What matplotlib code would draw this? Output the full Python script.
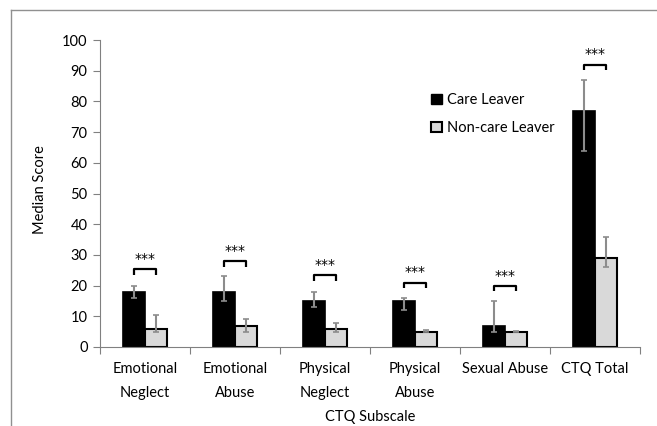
import matplotlib
matplotlib.use("Agg")
import matplotlib.pyplot as plt
import numpy as np
from matplotlib.lines import Line2D
from matplotlib.patches import Patch

plt.rcParams['font.family'] = ['Lato', 'DejaVu Sans']

categories = ["Emotional\nNeglect", "Emotional\nAbuse", "Physical\nNeglect",
              "Physical\nAbuse", "Sexual Abuse", "CTQ Total"]
care = [18, 18, 15, 15, 7, 77]
care_lo = [16, 15, 13, 12, 5, 64]
care_hi = [20, 23, 18, 16, 15, 87]
noncare = [6, 7, 6, 5, 5, 29]
noncare_lo = [5, 5, 5, 5, 5, 26]
noncare_hi = [10.4, 9, 7.7, 5.6, 5.3, 35.7]
bracket_y = [25.3, 28, 23.4, 21, 20, 92]
sig_label = ["***"] * 6
yticks = list(range(0, 101, 10))

fig = plt.figure(figsize=(6.57, 4.26), dpi=100)
ax = fig.add_axes([100/657, 1-347/426, 540/657, 307/426])

x = np.arange(len(categories))
w = 0.245
care_c = x - w/2
non_c = x + w/2
ax.bar(care_c, care, width=w, color='black', edgecolor='black', linewidth=1.2, label='Care Leaver', zorder=2)
ax.bar(non_c, noncare, width=w, color='#d9d9d9', edgecolor='black', linewidth=1.5, label='Non-care Leaver', zorder=2)

care_err = [np.array(care) - np.array(care_lo), np.array(care_hi) - np.array(care)]
non_err = [np.array(noncare) - np.array(noncare_lo), np.array(noncare_hi) - np.array(noncare)]
ax.errorbar(care_c, care, yerr=care_err, fmt='none', ecolor='#8c8c8c', elinewidth=1.5, capsize=2, capthick=1.2, zorder=3)
ax.errorbar(non_c, noncare, yerr=non_err, fmt='none', ecolor='#8c8c8c', elinewidth=1.5, capsize=2, capthick=1.2, zorder=3)

for i in range(len(categories)):
    yb = bracket_y[i]
    ax.plot([care_c[i], care_c[i], non_c[i], non_c[i]], [yb-1.8, yb, yb, yb-1.8],
            color='black', lw=1.6, solid_capstyle='butt', zorder=4)
    ax.text(x[i], yb + 1.0, sig_label[i], ha='center', va='bottom', fontsize=10,
            family='DejaVu Sans', zorder=4)

ax.set_xlim(-0.5, len(categories) - 0.5)
ax.set_ylim(0, 100)
ax.set_yticks(yticks)
ax.set_yticklabels([str(t) for t in yticks], fontsize=10.5)
ax.set_xticks(x)
ax.set_xticklabels(categories, fontsize=10.5, linespacing=1.9)
ax.set_xticks(np.arange(-0.5, len(categories)), minor=True)
ax.tick_params(axis='x', which='major', length=0, pad=11)
ax.tick_params(axis='x', which='minor', length=5, width=0.8, color='#808080', direction='out')
ax.tick_params(axis='y', length=5, width=0.8, color='#808080', direction='out', pad=4)
for s in ['top', 'right']:
    ax.spines[s].set_visible(False)
for s in ['left', 'bottom']:
    ax.spines[s].set_color('#808080')
    ax.spines[s].set_linewidth(0.8)

handles = [Patch(facecolor='black', edgecolor='black', linewidth=1.0),
           Patch(facecolor='#d9d9d9', edgecolor='black', linewidth=1.5)]
fig.legend(handles, ['Care Leaver', 'Non-care Leaver'], loc='upper left',
           bbox_to_anchor=(418/657, 1-80/426), frameon=False, fontsize=10.5,
           handlelength=0.75, handleheight=0.75, handletextpad=0.35, labelspacing=0.95)

fig.text(40/657, 1-190/426, 'Median Score', rotation=90, ha='center', va='center', fontsize=10.5)
fig.text(370/657, 1-417/426, 'CTQ Subscale', ha='center', va='center', fontsize=10.5)

# outer frame (partially cropped)
fig.add_artist(Line2D([11/657, 11/657], [0, 1-10/426], transform=fig.transFigure, color='#909090', lw=1))
fig.add_artist(Line2D([11/657, 1], [1-10/426, 1-10/426], transform=fig.transFigure, color='#909090', lw=1))

fig.savefig('out.png', dpi=100)
